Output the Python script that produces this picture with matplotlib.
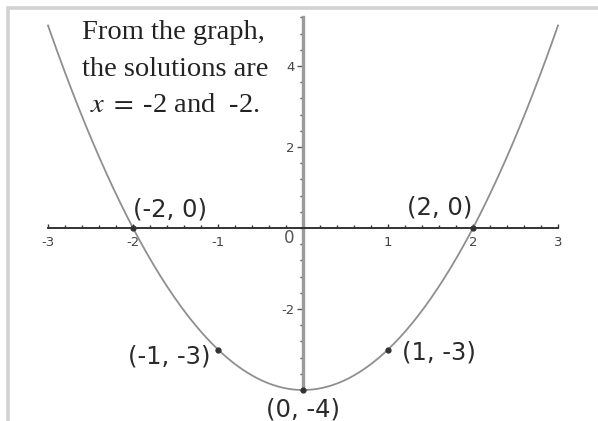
import matplotlib
matplotlib.use("Agg")
import matplotlib.pyplot as plt
from matplotlib.lines import Line2D
from matplotlib.ticker import FixedLocator, NullFormatter
import numpy as np

plt.rcParams['axes.unicode_minus'] = False
plt.rcParams['mathtext.fontset'] = 'stix'

# y = x^2 - 4 on [-3, 3]
x_min, x_max = -3, 3
n_pts = 301
# marked points and their labels
pts_x = [-2, 2, -1, 1, 0]
pts_y = [0, 0, -3, -3, -4]
pts_lbl = ['(-2, 0)', '(2, 0)', '(-1, -3)', '(1, -3)', '(0, -4)']
xtick_vals = [-3, -2, -1, 1, 2, 3]
ytick_vals = [-2, 2, 4]
note_lines = ['From the graph,', 'the solutions are', r'$x\;=\;$-2 and  -2.']

W, H = 598, 421
fig = plt.figure(figsize=(W / 100, H / 100), dpi=100)
ax = fig.add_axes([0, 0, 1, 1])
ax.patch.set_alpha(0)

# pixel layout: origin at (303, 228), 85 px per x unit, 40.5 px per y unit
ox, oy, sx, sy = 303, 228, 85.0, 40.5
ax.set_xlim(-ox / sx, (W - ox) / sx)
ax.set_ylim((oy - H) / sy, oy / sy)

xs = np.linspace(x_min, x_max, n_pts)
ax.plot(xs, xs ** 2 - 4, color='#8f8f8f', lw=1.3, zorder=3)
ax.plot(pts_x, pts_y, 'o', ms=3.5, color='#333333', zorder=4)

# axes through the origin
for s in ['top', 'right']:
    ax.spines[s].set_visible(False)
ax.spines['bottom'].set_position(('data', 0))
ax.spines['left'].set_position(('data', 0))
ax.spines['bottom'].set_bounds(-3, 3)
ax.spines['left'].set_bounds(-4, 5.2)
ax.spines['bottom'].set_color('#333333')
ax.spines['bottom'].set_linewidth(1.4)
ax.spines['left'].set_color('#9a9a9a')
ax.spines['left'].set_linewidth(2.4)

ax.xaxis.set_major_locator(FixedLocator(xtick_vals))
ax.xaxis.set_minor_locator(FixedLocator(np.arange(-3, 3.01, 0.2)))
ax.set_xticklabels([str(v) for v in xtick_vals])
ax.yaxis.set_major_locator(FixedLocator(ytick_vals))
ax.yaxis.set_minor_locator(FixedLocator(np.arange(-4, 5.21, 0.4)))
ax.set_yticklabels([str(v) for v in ytick_vals])
ax.yaxis.set_minor_formatter(NullFormatter())

ax.tick_params(axis='x', which='both', direction='in', color='#333333', width=1,
               labelsize=9.5, labelcolor='#444444', pad=6)
ax.tick_params(axis='x', which='major', length=3)
ax.tick_params(axis='x', which='minor', length=2)
ax.tick_params(axis='y', which='both', direction='out', color='#555555', width=1,
               labelsize=9.5, labelcolor='#444444', pad=2)
ax.tick_params(axis='y', which='major', length=4)
ax.tick_params(axis='y', which='minor', length=2.5)
ax.annotate('0', (0, 0), xytext=(-9, -1), textcoords='offset pixels',
            fontsize=12, color='#555555', ha='right', va='top')

# point labels (pixel offsets from each point)
offs = [(0, 11, 'left'), (-1, 14, 'right'), (-8, -14, 'right'),
        (14, -10, 'left'), (0, -26, 'center')]
for px, py, lbl, (dx, dy, ha) in zip(pts_x, pts_y, pts_lbl, offs):
    ax.annotate(lbl, (px, py), xytext=(dx, dy), textcoords='offset pixels',
                ha=ha, va='baseline', fontsize=17.5, color='#2a2a2a',
                family='DejaVu Sans')

# explanatory note
note_pos = [(82, 39), (82, 76), (90, 112)]
for txt, (tx, ty) in zip(note_lines, note_pos):
    fig.text(tx / W, 1 - ty / H, txt, ha='left', va='baseline', fontsize=20.5,
             family='Liberation Serif', color='#222222')

# window frame along the top and left edges
fig.add_artist(Line2D([7.5 / W, 7.5 / W, 1], [0, 1 - 7.5 / H, 1 - 7.5 / H],
                      transform=fig.transFigure, color='#d2d2d2', lw=2.6,
                      solid_joinstyle='miter'))

fig.savefig('out.png', dpi=100)
